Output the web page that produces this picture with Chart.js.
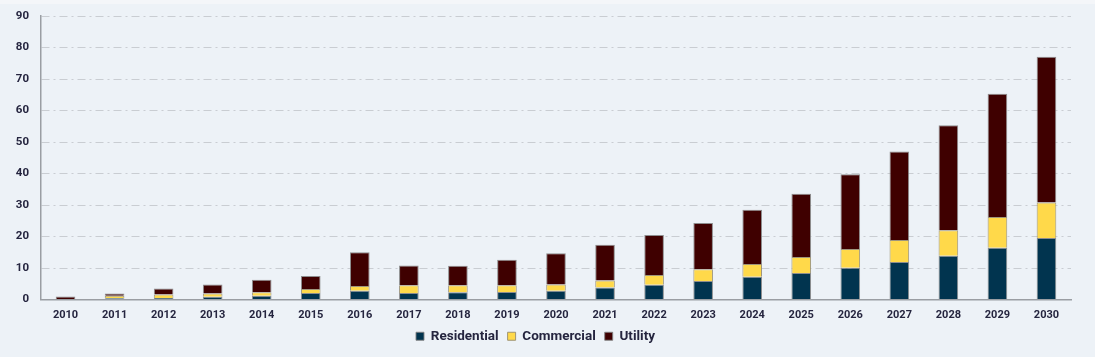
<!DOCTYPE html>
<html>
<head>
<meta charset="utf-8">
<script src="https://cdn.jsdelivr.net/npm/chart.js@4.4.1/dist/chart.umd.min.js"></script>
<style>
  html, body { margin: 0; padding: 0; background: #f4f6f9; }
  #wrap { position: absolute; left: 0; top: 4px; width: 1095px; height: 353px; background: #edf2f7; }
</style>
</head>
<body>
<div id="wrap"><canvas id="c" width="1095" height="353"></canvas></div>
<script>
const categories = ['2010','2011','2012','2013','2014','2015','2016','2017','2018','2019','2020','2021','2022','2023','2024','2025','2026','2027','2028','2029','2030'];
const residential = [0.05,0.4,0.5,0.85,1.2,2.1,2.8,2.1,2.3,2.4,2.8,3.8,4.7,5.9,7.2,8.4,10.1,11.9,13.9,16.4,19.5];
const commercial  = [0.1,0.8,1.1,1.05,1.1,1.2,1.5,2.4,2.2,2.1,2.0,2.2,3.1,3.7,4.1,5.1,5.9,7.0,8.1,9.8,11.3];
const utility     = [0.8,0.7,1.9,2.9,4.0,4.2,10.7,6.3,6.2,8.1,9.9,11.4,12.7,14.7,17.2,20.1,23.8,28.1,33.3,39.1,46.3];
const yTicks = [0,10,20,30,40,50,60,70,80,90];

const textColor = '#25253f';
const fontFamily = 'Roboto, "Open Sans", sans-serif';

new Chart(document.getElementById('c'), {
  type: 'bar',
  data: {
    labels: categories,
    datasets: [
      { label: 'Residential', data: residential, backgroundColor: '#01344f', borderColor: 'rgba(130,130,130,0.9)', borderWidth: 1 },
      { label: 'Commercial', data: commercial, backgroundColor: '#ffd94a', borderColor: 'rgba(150,140,110,0.9)', borderWidth: 1 },
      { label: 'Utility', data: utility, backgroundColor: '#3f0000', borderColor: 'rgba(130,130,130,0.9)', borderWidth: 1 }
    ]
  },
  options: {
    responsive: false,
    animation: false,
    devicePixelRatio: 1,
    layout: { padding: { left: 0, right: 24, top: 12, bottom: 4 } },
    datasets: { bar: { barPercentage: 0.8, categoryPercentage: 0.5 } },
    plugins: {
      tooltip: { enabled: false },
      legend: {
        position: 'bottom',
        labels: {
          boxWidth: 8, boxHeight: 8, padding: 9,
          color: textColor,
          font: { family: fontFamily, size: 13.5, weight: 'bold' }
        }
      }
    },
    scales: {
      x: {
        stacked: true,
        grid: { display: false, drawTicks: false },
        border: { display: true, color: '#9a9ea3', width: 1.5, dash: [8, 4, 2, 4] },
        ticks: { color: textColor, padding: 9, font: { family: fontFamily, size: 11, weight: 'bold' } },
        afterFit: (s) => { s.height = 21; s.paddingLeft = 0; s.paddingRight = 0; }
      },
      y: {
        stacked: true,
        min: 0, max: 90,
        afterBuildTicks: (s) => { s.ticks = yTicks.map(v => ({ value: v })); },
        afterFit: (s) => { s.width = 41; s.paddingTop = 0; s.paddingBottom = 0; },
        grid: { color: '#c9cdd2', drawTicks: false, lineWidth: 1 },
        border: { display: true, color: '#9a9ea3', width: 1.5, dash: [8, 4, 2, 4] },
        ticks: { color: textColor, padding: 12, font: { family: fontFamily, size: 11.5, weight: 'bold' } }
      }
    }
  },
  plugins: [{
    id: 'gridDash',
    beforeDraw(chart) {
      const g = chart.options.scales.y.grid;
      g.borderDash = [6, 4, 2, 4];
    }
  }]
});
</script>
</body>
</html>
